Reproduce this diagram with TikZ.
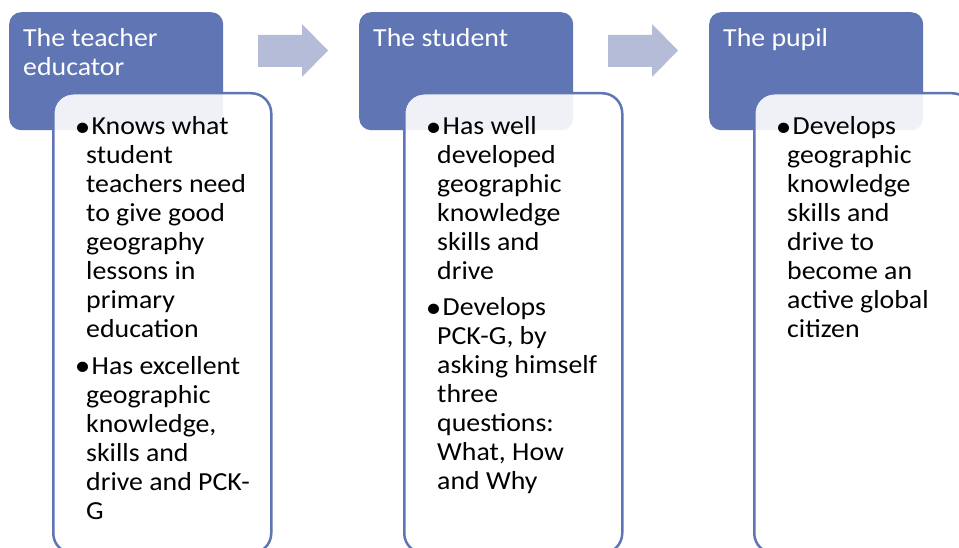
\documentclass[tikz,border=0pt]{standalone}
\usepackage{fontspec}
\setmainfont{Carlito}[FakeStretch=1.07]
\definecolor{hdr}{RGB}{96,118,180}
\definecolor{arw}{RGB}{180,188,216}
\tikzset{
  hdrbox/.style={fill=hdr, rounded corners=12pt, anchor=north west, minimum width=214pt, minimum height=118pt, inner sep=0pt},
  card/.style={fill=white, fill opacity=0.9, draw=hdr, draw opacity=1, line width=2.5pt, rounded corners=20pt, anchor=north west, minimum width=218pt, minimum height=460pt, inner sep=0pt},
  flowarrow/.style={fill=arw},
  hdrtext/.style={text=white, font=\fontsize{26}{29}\selectfont, inner sep=0pt, anchor=base west},
  body/.style={text=black, font=\fontsize{26}{29}\selectfont, inner sep=0pt, anchor=base west},
}
\newcommand{\bul}{\hspace*{-12.5pt}\makebox[18pt][c]{\raisebox{-1.2pt}{\scalebox{1.12}{•}}}}
\newcommand{\mylines}[1]{\vtop{\halign{##\hfil\cr#1\crcr}}}
\begin{document}
\begin{tikzpicture}[x=1pt,y=-1pt]
\useasboundingbox (0,0) rectangle (959,548);
\clip (0,0) rectangle (959,548);
\fill[white] (0,0) rectangle (959,548);
% headers
\node[hdrbox] (h1) at (9,12) {};
\node[hdrbox] (h2) at (359,12) {};
\node[hdrbox] (h3) at (709,12) {};
% arrows
\fill[flowarrow] (258,35) -- (302,35) -- (302,24) -- (328,50.5) -- (302,77) -- (302,67) -- (258,67) -- cycle;
\fill[flowarrow] (608,35) -- (652,35) -- (652,24) -- (678,50.5) -- (652,77) -- (652,67) -- (608,67) -- cycle;
% cards
\node[card] (c1) at (52,92) {};
\node[card] (c2) at (403,92) {};
\node[card] (c3) at (753,92) {};
% header texts
\node[hdrtext] (ht1) at (23,47) {\mylines{The teacher\cr educator}};
\node[hdrtext] (ht2) at (373,47) {\mylines{The student}};
\node[hdrtext] (ht3) at (723,47) {\mylines{The pupil}};
% body texts
\node[body] (b11) at (86,135) {\mylines{\bul Knows what\cr student\cr teachers need\cr to give good\cr geography\cr lessons in\cr primary\cr education}};
\node[body] (b12) at (86,374) {\mylines{\bul Has excellent\cr geographic\cr knowledge,\cr skills and\cr drive and PCK-\cr G}};
\node[body] (b21) at (437,135) {\mylines{\bul Has well\cr developed\cr geographic\cr knowledge\cr skills and\cr drive}};
\node[body] (b22) at (437,316) {\mylines{\bul Develops\cr PCK-G, by\cr asking himself\cr three\cr questions:\cr What, How\cr and Why}};
\node[body] (b31) at (787,135) {\mylines{\bul Develops\cr geographic\cr knowledge\cr skills and\cr drive to\cr become an\cr active global\cr citizen}};
\end{tikzpicture}
\end{document}
